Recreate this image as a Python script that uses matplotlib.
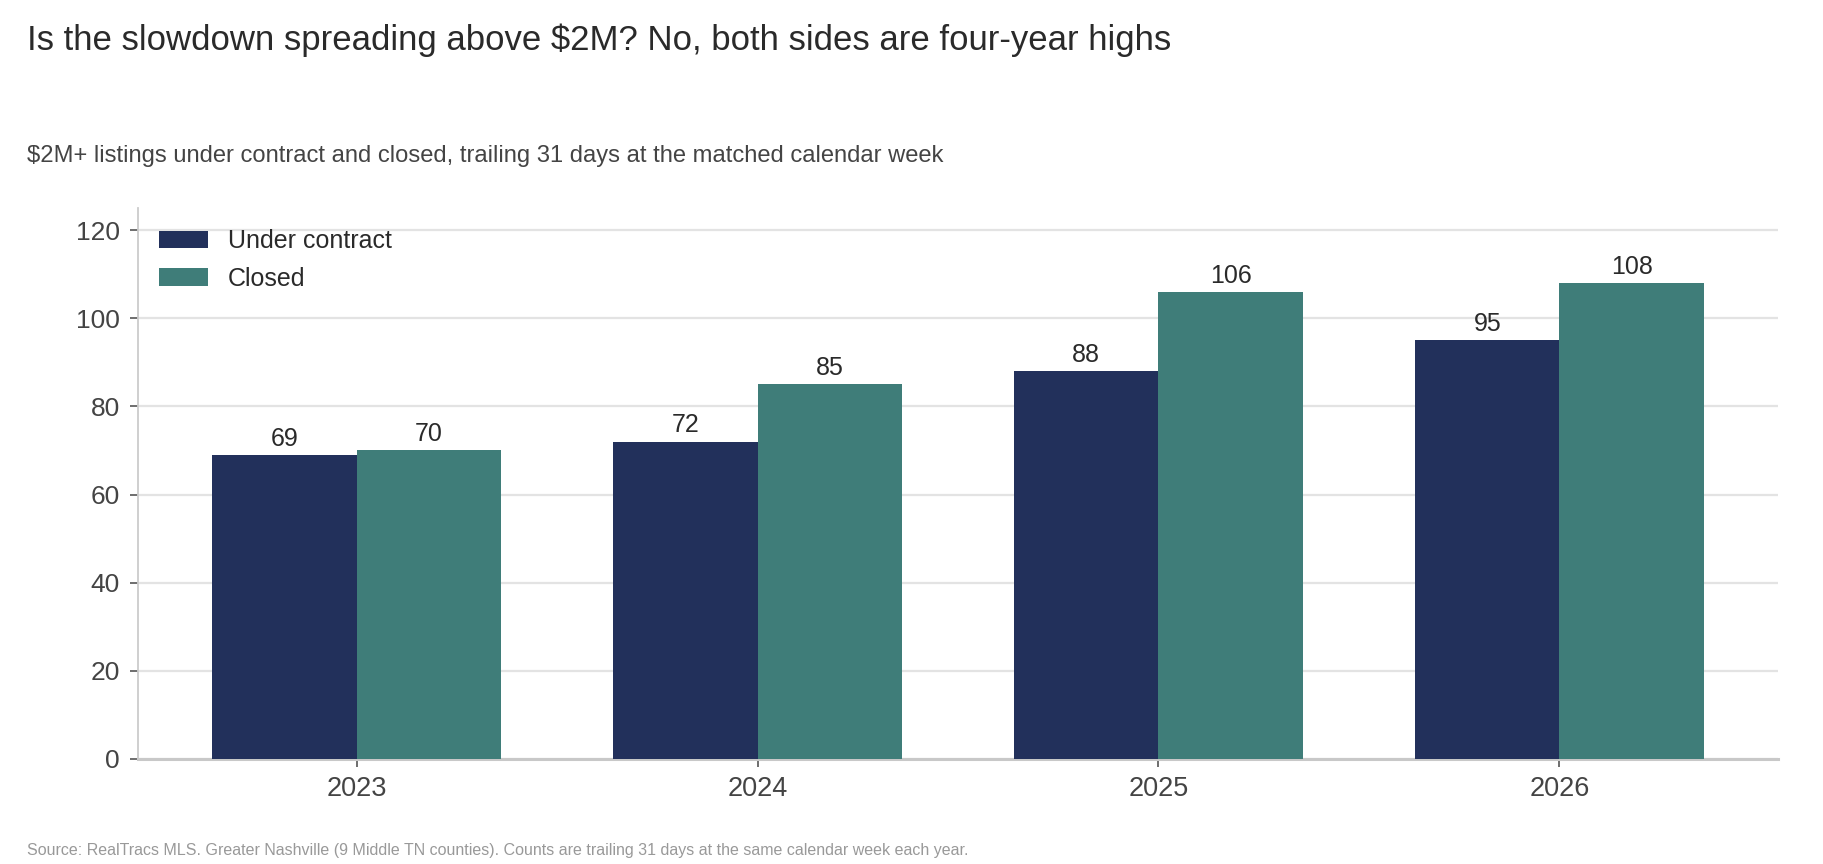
import numpy as np
import matplotlib
matplotlib.use("Agg")
import matplotlib.pyplot as plt

plt.rcParams['font.family'] = ['Liberation Sans', 'DejaVu Sans']

years = ['2023', '2024', '2025', '2026']
under_contract = [69, 72, 88, 95]
closed = [70, 85, 106, 108]

navy = '#22305b'
teal = '#3f7d79'

W, H = 1824, 864
fig = plt.figure(figsize=(W / 100, H / 100), dpi=100)
ax = fig.add_axes([138 / W, 1 - 759 / H, (1778 - 138) / W, (759 - 208) / H])

x = np.arange(len(years))
bw = 0.36
b1 = ax.bar(x - bw / 2, under_contract, bw, color=navy, label='Under contract', zorder=3)
b2 = ax.bar(x + bw / 2, closed, bw, color=teal, label='Closed', zorder=3)
ax.bar_label(b1, padding=3, fontsize=18, color='#2a2a2a')
ax.bar_label(b2, padding=3, fontsize=18, color='#2a2a2a')

ax.set_xlim(-0.545, 3.545)
ax.set_ylim(0, 125)
ax.set_yticks(range(0, 121, 20))
ax.set_xticks(x)
ax.set_xticklabels(years)

ax.grid(axis='y', color='#e3e3e3', linewidth=1.6, zorder=0)
ax.set_axisbelow(True)
for s in ['top', 'right']:
    ax.spines[s].set_visible(False)
ax.spines['left'].set_color('#cccccc')
ax.spines['left'].set_linewidth(1.3)
ax.spines['bottom'].set_color('#c8c8c8')
ax.spines['bottom'].set_linewidth(2.2)

ax.tick_params(axis='y', length=6, width=1.2, color='#555555', labelsize=19, labelcolor='#444444', pad=7)
ax.tick_params(axis='x', length=6, width=1.2, color='#555555', labelsize=19.5, labelcolor='#444444', pad=6)

ax.legend(loc='upper left', bbox_to_anchor=(0.0128, (759 - 229) / 551), frameon=False,
          fontsize=18, handlelength=1.95, handleheight=0.68, handletextpad=0.8,
          labelspacing=0.55, borderpad=0, borderaxespad=0, labelcolor='#2a2a2a')

fig.text(27 / W, 1 - 50 / H, 'Is the slowdown spreading above $2M? No, both sides are four-year highs',
         fontsize=25, color='#2a2a2a', va='baseline', ha='left')
fig.text(27 / W, 1 - 162 / H, '$2M+ listings under contract and closed, trailing 31 days at the matched calendar week',
         fontsize=17.1, color='#444444', va='baseline', ha='left')
fig.text(27 / W, 1 - 855 / H,
         'Source: RealTracs MLS. Greater Nashville (9 Middle TN counties). Counts are trailing 31 days at the same calendar week each year.',
         fontsize=11.55, color='#999999', va='baseline', ha='left')

fig.savefig('out.png', dpi=100)
